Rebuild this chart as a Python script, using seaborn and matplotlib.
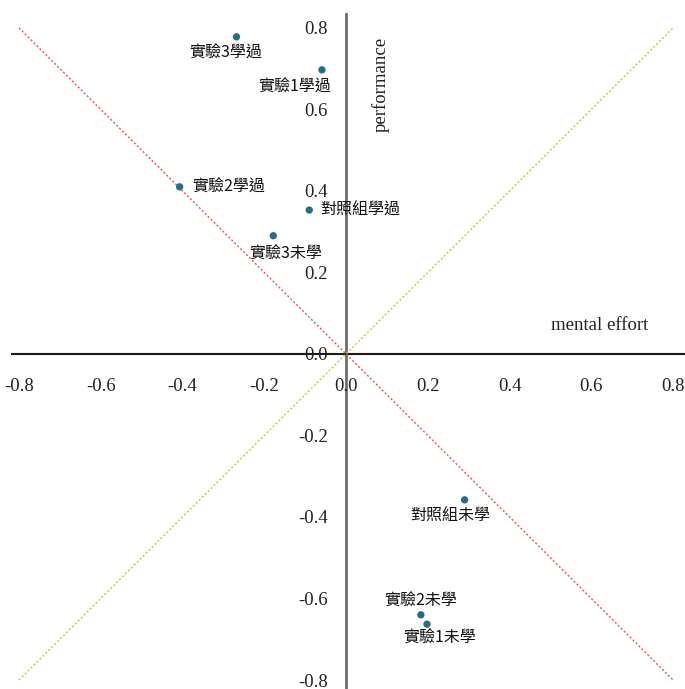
import matplotlib
matplotlib.use("Agg")
import matplotlib.pyplot as plt
import seaborn as sns
import pandas as pd

# Group means: mental effort (x) vs performance (y)
labels = ["實驗3學過", "實驗1學過", "實驗2學過", "對照組學過",
          "實驗3未學", "對照組未學", "實驗2未學", "實驗1未學"]
mental_effort = [-0.268, -0.059, -0.407, -0.090, -0.178, 0.290, 0.183, 0.198]
performance = [0.778, 0.697, 0.410, 0.353, 0.290, -0.358, -0.640, -0.663]
tick_values = [-0.8, -0.6, -0.4, -0.2, 0.0, 0.2, 0.4, 0.6, 0.8]

df = pd.DataFrame({"label": labels, "x": mental_effort, "y": performance})

sns.set_theme(style="white")
plt.rcParams["font.family"] = ["Liberation Serif", "DejaVu Serif"]
cjk = ["Noto Sans CJK TC", "DejaVu Sans"]

fig = plt.figure(figsize=(6.85, 6.89), dpi=100)
ax = fig.add_axes([12 / 685, 0.0, 673 / 685, 675 / 689])
ax.set_xlim(-0.817, 0.829)
ax.set_ylim(-0.822, 0.834)

# Reference diagonals
ax.plot([-0.8, 0.8], [0.8, -0.8], color="#ff4a4a", lw=1.0, ls=(0, (1.5, 1.5)), zorder=1)
ax.plot([-0.8, 0.8], [-0.8, 0.8], color="#a8d832", lw=1.0, ls=(0, (1.5, 1.5)), zorder=1)

sns.scatterplot(data=df, x="x", y="y", ax=ax, color="#236f85", s=28,
                edgecolor="none", zorder=3, legend=False)

# Label placement (offsets in pixels from each point)
offsets = {
    "實驗3學過": (-11, -16, "center"),
    "實驗1學過": (-27, -17, "center"),
    "實驗2學過": (13, 0, "left"),
    "對照組學過": (11, 0, "left"),
    "實驗3未學": (12, -19, "center"),
    "對照組未學": (-14, -16, "center"),
    "實驗2未學": (0, 14, "center"),
    "實驗1未學": (13, -14, "center"),
}
for lab, x, y in zip(labels, mental_effort, performance):
    dx, dy, ha = offsets[lab]
    ax.annotate(lab, (x, y), xytext=(dx * 0.72, dy * 0.72), textcoords="offset points",
                ha=ha, va="center", fontsize=11.5, family=cjk, color="#111111", zorder=4)

# Axes crossing at the origin
for side in ["top", "right"]:
    ax.spines[side].set_visible(False)
ax.spines["left"].set_position(("data", 0))
ax.spines["bottom"].set_position(("data", 0))
ax.spines["left"].set_color("#6e6e6e")
ax.spines["left"].set_linewidth(2.0)
ax.spines["left"].set_zorder(0.5)
ax.spines["bottom"].set_color("#1a1a1a")
ax.spines["bottom"].set_linewidth(1.5)
ax.spines["bottom"].set_zorder(0.6)
# Tick labels drawn above the crossing axis lines
ax.xaxis.set_zorder(3.5)
ax.yaxis.set_zorder(3.5)

ax.set_xticks(tick_values)
ax.set_yticks(tick_values)
ax.set_xticklabels([f"{v:.1f}" for v in tick_values])
ax.set_yticklabels([f"{v:.1f}" for v in tick_values])
ax.tick_params(axis="x", direction="in", length=5, width=1.2, color="#222222",
               pad=17, labelsize=13.5, labelcolor="#222222")
ax.tick_params(axis="y", direction="in", length=5, width=1.2, color="#555555",
               pad=13, labelsize=13.5, labelcolor="#222222")
ax.set_xlabel("")
ax.set_ylabel("")

ax.text(0.62, 0.07, "mental effort", ha="center", va="center", fontsize=13.5, color="#222222")
ax.text(0.085, 0.66, "performance", ha="center", va="center", rotation=90,
        fontsize=13.5, color="#222222")

fig.savefig("out.png", dpi=100)
